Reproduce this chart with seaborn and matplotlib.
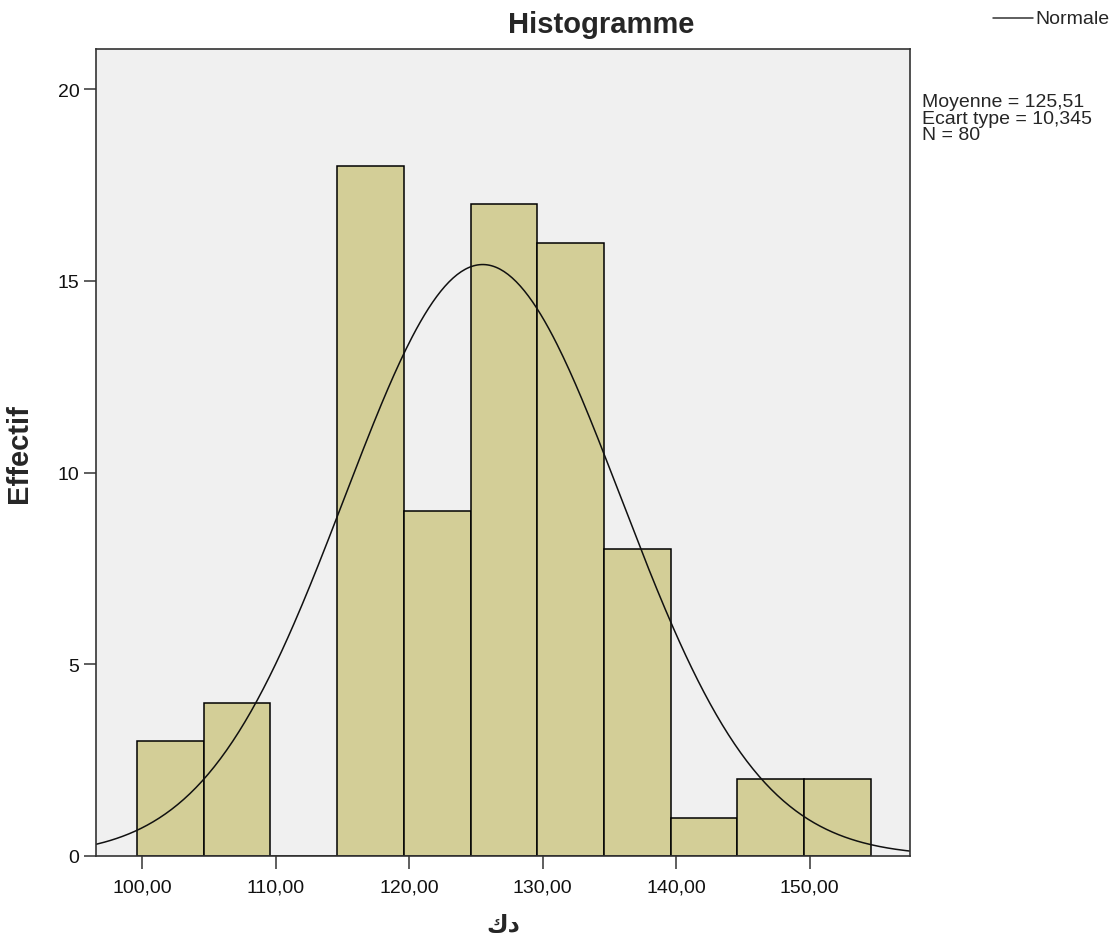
import numpy as np
import pandas as pd
import seaborn as sns
import matplotlib.pyplot as plt
from matplotlib.ticker import FuncFormatter

# Histogram bins (width 5) and counts
bin_edges = [99.6, 104.6, 109.6, 114.6, 119.6, 124.6, 129.6, 134.6, 139.6, 144.6, 149.6, 154.6]
counts = [3, 4, 0, 18, 9, 17, 16, 8, 1, 2, 2]

# Summary statistics shown in the legend box
mean_value = 125.51
std_value = 10.345
n_obs = 80

x_ticks = [100, 110, 120, 130, 140, 150]
y_ticks = [0, 5, 10, 15, 20]

title = "Histogramme"
x_label = "دك"
y_label = "Effectif"
legend_label = "Normale"
stats_lines = ["Moyenne = 125,51", "Ecart type = 10,345", "N = 80"]

sns.set_theme(style="white")
plt.rcParams['font.family'] = ['Liberation Sans', 'DejaVu Sans']

centers = [(a + b) / 2 for a, b in zip(bin_edges[:-1], bin_edges[1:])]
df = pd.DataFrame({"value": centers, "count": counts})

fig = plt.figure(figsize=(11.2, 9.45), dpi=100)
ax = fig.add_axes([96 / 1120, 88 / 945, 814 / 1120, 807.5 / 945])
ax.set_facecolor("#F0F0F0")

sns.histplot(data=df, x="value", weights="count", bins=bin_edges,
             color="#D3CE97", edgecolor="black", linewidth=1.1, alpha=1, ax=ax)

# normal curve scaled to counts
xlim = (96.53, 157.53)
xs = np.linspace(xlim[0], xlim[1], 400)
binwidth = bin_edges[1] - bin_edges[0]
ys = n_obs * binwidth / (std_value * np.sqrt(2 * np.pi)) * np.exp(-0.5 * ((xs - mean_value) / std_value) ** 2)
sns.lineplot(x=xs, y=ys, color="#111111", linewidth=1.1, ax=ax)

ax.set_xlim(*xlim)
ax.set_ylim(0, 21.06)
ax.set_xticks(x_ticks)
ax.set_yticks(y_ticks)
ax.xaxis.set_major_formatter(FuncFormatter(lambda v, p: f"{v:.2f}".replace(".", ",")))
ax.tick_params(axis="both", direction="out", length=9, width=1.1, color="#333333",
               labelsize=14, labelcolor="#111111", bottom=True, left=True)
ax.tick_params(axis="x", pad=7)
ax.tick_params(axis="y", pad=3)
for sp in ax.spines.values():
    sp.set_color("#333333")
    sp.set_linewidth(1.2)

ax.set_xlabel(x_label[::-1], fontsize=17, fontweight="bold", labelpad=12, family="DejaVu Sans")
ax.set_ylabel(y_label, fontsize=21, fontweight="bold", labelpad=18)

fig.text(601 / 1120, 1 - 25 / 945, title, ha="center", va="center", fontsize=21, fontweight="bold")

# legend line + label, top right outside the axes
fig.add_artist(plt.Line2D([993 / 1120, 1033 / 1120], [1 - 19 / 945, 1 - 19 / 945], color="#333333", linewidth=1.1))
fig.text(1035 / 1120, 1 - 20 / 945, legend_label, ha="left", va="center", fontsize=14)

fig.text(922 / 1120, 1 - 94 / 945, "\n".join(stats_lines), ha="left", va="top", fontsize=14, linespacing=0.98)

fig.savefig("out.png", dpi=100)
